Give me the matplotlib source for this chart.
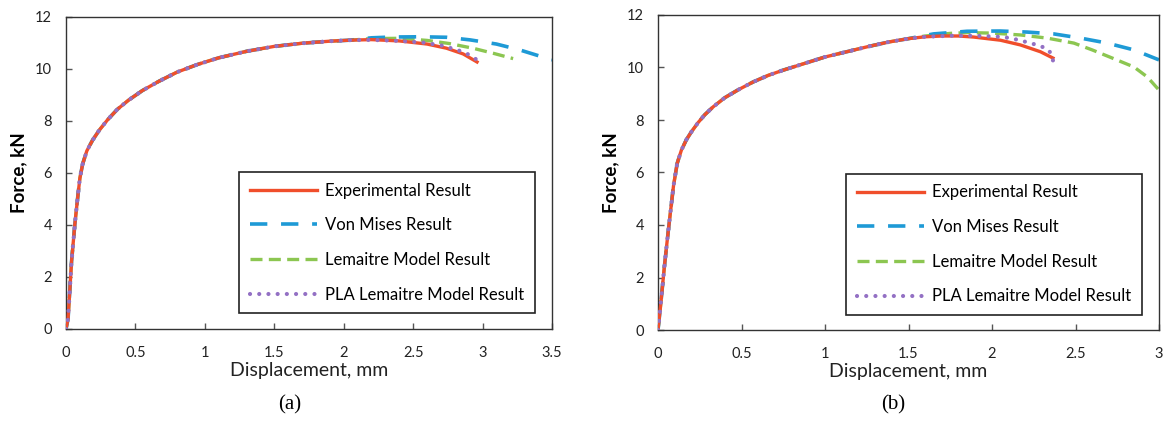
import matplotlib
matplotlib.use("Agg")
import matplotlib.pyplot as plt
from matplotlib.ticker import MultipleLocator, FuncFormatter

RED, BLUE, GREEN, PURPLE = "#F04E2B", "#1E9AD6", "#8CC651", "#9370C4"
AXIS = "#555555"

plt.rcParams.update({"font.family": ["Lato", "DejaVu Sans"], "font.size": 10})

LABELS = ["Experimental Result", "Von Mises Result",
          "Lemaitre Model Result", "PLA Lemaitre Model Result"]

# --- (a) shared rising part (mm, kN)
base_a_x = [0, 0.015, 0.04, 0.065, 0.085, 0.10, 0.12, 0.15, 0.19, 0.24, 0.30, 0.37,
            0.45, 0.55, 0.67, 0.80, 0.95, 1.10, 1.30, 1.50, 1.70, 1.90, 2.05]
base_a_y = [0, 0.4, 2.6, 4.1, 5.1, 5.8, 6.35, 6.85, 7.25, 7.65, 8.05, 8.45,
            8.8, 9.17, 9.53, 9.88, 10.18, 10.43, 10.68, 10.87, 10.99, 11.07, 11.11]
a_exp_x = base_a_x + [2.2, 2.4, 2.6, 2.74, 2.86, 2.96]
a_exp_y = base_a_y + [11.13, 11.08, 10.96, 10.8, 10.58, 10.27]
a_vm_x = base_a_x + [2.2, 2.35, 2.55, 2.74, 2.91, 3.10, 3.27, 3.5]
a_vm_y = base_a_y + [11.2, 11.23, 11.24, 11.22, 11.12, 10.96, 10.73, 10.35]
a_lem_x = base_a_x + [2.2, 2.4, 2.6, 2.76, 2.93, 3.08, 3.22]
a_lem_y = base_a_y + [11.17, 11.18, 11.1, 10.98, 10.8, 10.6, 10.4]
a_pla_x = base_a_x + [2.2, 2.4, 2.57, 2.71, 2.86, 2.92, 2.98]
a_pla_y = base_a_y + [11.12, 11.08, 11.02, 10.9, 10.66, 10.5, 10.27]

# --- (b)
base_b_x = [0, 0.015, 0.038, 0.055, 0.071, 0.093, 0.115, 0.14, 0.17, 0.20, 0.24, 0.28,
            0.33, 0.40, 0.48, 0.57, 0.66, 0.75, 0.84, 1.0, 1.13, 1.26, 1.38, 1.5]
base_b_y = [0, 0.9, 2.4, 3.4, 4.3, 5.5, 6.35, 6.85, 7.25, 7.55, 7.9, 8.2,
            8.5, 8.85, 9.15, 9.45, 9.7, 9.9, 10.08, 10.4, 10.6, 10.8, 10.97, 11.1]
b_exp_x = base_b_x + [1.6, 1.7, 1.8, 1.89, 1.97, 2.05, 2.17, 2.29, 2.365]
b_exp_y = base_b_y + [11.17, 11.2, 11.2, 11.16, 11.1, 11.04, 10.86, 10.6, 10.36]
b_vm_x = base_b_x + [1.6, 1.65, 1.85, 2.05, 2.21, 2.37, 2.53, 2.69, 2.85, 3.0]
b_vm_y = base_b_y + [11.22, 11.28, 11.38, 11.39, 11.35, 11.28, 11.12, 10.93, 10.67, 10.29]
b_lem_x = base_b_x + [1.6, 1.75, 1.85, 2.0, 2.17, 2.33, 2.49, 2.6, 2.72, 2.85, 2.93, 3.0]
b_lem_y = base_b_y + [11.2, 11.3, 11.33, 11.31, 11.24, 11.12, 10.93, 10.67, 10.36, 10.02, 9.64, 9.14]
b_pla_x = base_b_x + [1.6, 1.75, 1.9, 2.05, 2.11, 2.17, 2.23, 2.29, 2.34, 2.365, 2.365]
b_pla_y = base_b_y + [11.17, 11.21, 11.21, 11.17, 11.12, 11.03, 10.93, 10.82, 10.67, 10.36, 9.98]


def pannello(ax, serie, xmax, legend_box):
    exp, vm, lem, pla = serie
    ax.plot(*lem, color=GREEN, lw=2.4, dashes=(3.6, 1.9), label=LABELS[2], zorder=2)
    ax.plot(*vm, color=BLUE, lw=2.6, dashes=(4.8, 3.8), label=LABELS[1], zorder=2)
    ax.plot(*exp, color=RED, lw=2.4, label=LABELS[0], zorder=3)
    ax.plot(*pla, color=PURPLE, lw=3, dashes=(0.01, 2.2), dash_capstyle="round",
            label=LABELS[3], zorder=4)
    ax.set_xlim(0, xmax); ax.set_ylim(0, 12)
    ax.xaxis.set_major_locator(MultipleLocator(0.5))
    ax.yaxis.set_major_locator(MultipleLocator(2))
    ax.xaxis.set_major_formatter(FuncFormatter(lambda v, p: f"{v:g}"))
    ax.tick_params(direction="in", length=4, width=1, color=AXIS, labelsize=10.5,
                   labelcolor="#222222")
    ax.tick_params(axis="x", pad=12.5); ax.tick_params(axis="y", pad=10)
    for s in ax.spines.values():
        s.set_color("#333333"); s.set_linewidth(1)
    ax.set_xlabel("Displacement, mm", fontsize=14, labelpad=1, color="#222222")
    ax.set_ylabel("Force, kN", fontsize=13.5, fontweight="bold", labelpad=6)
    h, l = ax.get_legend_handles_labels()
    order = [l.index(t) for t in LABELS]
    leg = ax.legend([h[i] for i in order], LABELS, loc="lower right",
                    bbox_to_anchor=legend_box, fontsize=12, handlelength=4.0,
                    handletextpad=0.5, labelspacing=1.12, borderpad=0.65,
                    fancybox=False, framealpha=1, borderaxespad=0)
    leg.get_frame().set_edgecolor("#222222"); leg.get_frame().set_linewidth(1.2)


fig = plt.figure(figsize=(11.7, 4.21), dpi=100)
ax_a = fig.add_axes([66 / 1170, 92 / 421, 486 / 1170, 312 / 421])
ax_b = fig.add_axes([658 / 1170, 91 / 421, 501 / 1170, 315 / 421])

pannello(ax_a, [(a_exp_x, a_exp_y), (a_vm_x, a_vm_y), (a_lem_x, a_lem_y), (a_pla_x, a_pla_y)],
         3.5, (0.965, 0.05))
pannello(ax_b, [(b_exp_x, b_exp_y), (b_vm_x, b_vm_y), (b_lem_x, b_lem_y), (b_pla_x, b_pla_y)],
         3.0, (0.966, 0.047))

fig.text(290 / 1170, 1 - 405 / 421, "(a)", family="Liberation Serif", fontsize=15,
         ha="center", va="center")
fig.text(893 / 1170, 1 - 405 / 421, "(b)", family="Liberation Serif", fontsize=15,
         ha="center", va="center")

fig.savefig("out.png", dpi=100)
